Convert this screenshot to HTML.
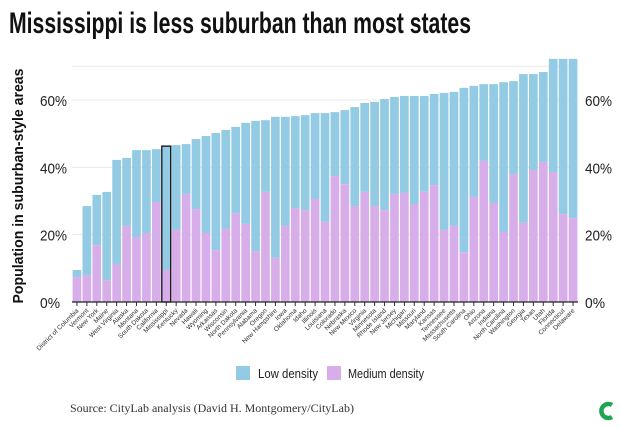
<!DOCTYPE html>
<html><head><meta charset="utf-8"><style>
html,body{margin:0;padding:0;background:#fff;}
svg{display:block;font-family:"Liberation Sans",sans-serif;}
</style></head><body>
<svg id="chart" width="620" height="428" viewBox="0 0 620 428">
<text x="9" y="33" font-size="30" font-weight="bold" fill="#111" textLength="462" lengthAdjust="spacingAndGlyphs">Mississippi is less suburban than most states</text>
<text transform="translate(23,186) rotate(-90)" text-anchor="middle" font-size="15" font-weight="bold" fill="#111" textLength="235" lengthAdjust="spacingAndGlyphs">Population in suburban-style areas</text>
<g id="grid"></g><g id="bars"></g><g id="axis"></g>
<g>
<rect x="236" y="366" width="14" height="14" fill="#93cbe5"/>
<text x="258" y="378" font-size="13" fill="#222" textLength="60" lengthAdjust="spacingAndGlyphs">Low density</text>
<rect x="327" y="366" width="14" height="14" fill="#d8aeea"/>
<text x="348" y="378" font-size="13" fill="#222" textLength="76" lengthAdjust="spacingAndGlyphs">Medium density</text>
</g>
<text x="70" y="412" font-size="12" font-family="Liberation Serif,serif" fill="#333">Source: CityLab analysis (David H. Montgomery/CityLab)</text>
<path d="M612 405 A7 7 0 1 0 612 417" stroke="#1fa552" stroke-width="4.5" fill="none"/>
</svg>
<script>
const states=["District of Columbia","Vermont","New York","Maine","West Virginia","Alaska","Montana","South Dakota","California","Mississippi","Kentucky","Nevada","Hawaii","Wyoming","Arkansas","Wisconsin","North Dakota","Pennsylvania","Alabama","Oregon","New Hampshire","Iowa","Oklahoma","Idaho","Illinois","Louisiana","Colorado","Nebraska","New Mexico","Virginia","Minnesota","Rhode Island","New Jersey","Michigan","Missouri","Maryland","Kansas","Tennessee","Massachusetts","South Carolina","Ohio","Arizona","Indiana","North Carolina","Washington","Georgia","Texas","Utah","Florida","Connecticut","Delaware"];
const totalPct=[9.5,28.5,31.8,32.7,42.2,42.8,45.1,45.1,45.4,46.3,46.6,46.9,48.4,49.3,50.2,51.1,52,53.2,53.8,54,55,55,55.2,55.5,56.1,56.1,56.4,57,57.9,59.1,59.4,60.3,60.9,61.2,61.2,61.2,61.8,62.1,62.4,63.6,64.2,64.7,64.7,65.3,65.6,67.7,67.7,68.3,72.2,72.2,72.2];
const mediumPct=[7.4,8,16.9,6.5,11.3,22.6,19.3,20.5,29.7,9.5,21.4,32.1,27.6,20.5,15.4,21.7,26.4,23.2,15.1,32.7,13.1,22.6,27.9,27.3,30.6,23.8,37.4,35,28.5,32.7,28.5,27.3,32.1,32.4,29.1,32.7,34.7,21.4,22.6,14.8,31.2,41.9,29.4,20.8,38,23.5,39.2,41.6,38.6,26.1,24.9];
const ticks=[0,20,40,60];
const grids=[20,40,60,70];
const highlight="Mississippi";
const NS="http://www.w3.org/2000/svg";
const X0=72,X1=578,Y0=302,PX=3.367;
const bw=(X1-X0)/states.length;
const y=v=>Y0-v*PX;
const x=i=>X0+i*bw;
function mk(t,a,p){const e=document.createElementNS(NS,t);for(const k in a)e.setAttribute(k,a[k]);p.appendChild(e);return e;}
const grid=document.getElementById('grid'),bars=document.getElementById('bars'),axis=document.getElementById('axis');
grids.forEach(g=>{
 const l=mk('line',{x1:X0,x2:X1,y1:y(g),y2:y(g),stroke:'#e8e8e8','stroke-width':1},grid);
 
 
});
ticks.forEach(t=>{
 const w=t===0?20:27;
 const a=mk('text',{x:40,y:y(t)+6,'font-size':15,fill:'#222',textLength:w,lengthAdjust:'spacingAndGlyphs'},axis);a.textContent=t+'%';
 
 
 const b=mk('text',{x:585,y:y(t)+6,'font-size':15,fill:'#222',textLength:w,lengthAdjust:'spacingAndGlyphs'},axis);b.textContent=t+'%';
 
 
});
states.forEach((s,i)=>{
 const g=mk('g',{},bars);
 
 
 const lo=mk('rect',{x:x(i)+0.6,y:y(totalPct[i]),width:bw-1.2,height:(totalPct[i]-mediumPct[i])*PX,fill:'#93cbe5'},g);
 
 
 const md=mk('rect',{x:x(i)+0.6,y:y(mediumPct[i]),width:bw-1.2,height:mediumPct[i]*PX,fill:'#d8aeea'},g);
 
 
 if(s===highlight){
  const h=mk('rect',{x:x(i)+0.5,y:y(totalPct[i]),width:bw-1,height:totalPct[i]*PX,fill:'none',stroke:'#111','stroke-width':1.3},g);
  
  
 }
 const tk=mk('line',{x1:x(i)+bw/2,x2:x(i)+bw/2,y1:Y0,y2:Y0+4,stroke:'#333','stroke-width':1},axis);
 
 
 const cx=x(i)+bw/2+2,cy=Y0+9;
 const lb=mk('text',{x:cx,y:cy,'font-size':6.5,fill:'#333','text-anchor':'end',transform:`rotate(-45 ${cx} ${cy})`},axis);
 lb.textContent=s;
 
 
});
const ax=mk('line',{x1:X0,x2:X1,y1:Y0,y2:Y0,stroke:'#222','stroke-width':1.2},axis);


</script>
</body></html>
